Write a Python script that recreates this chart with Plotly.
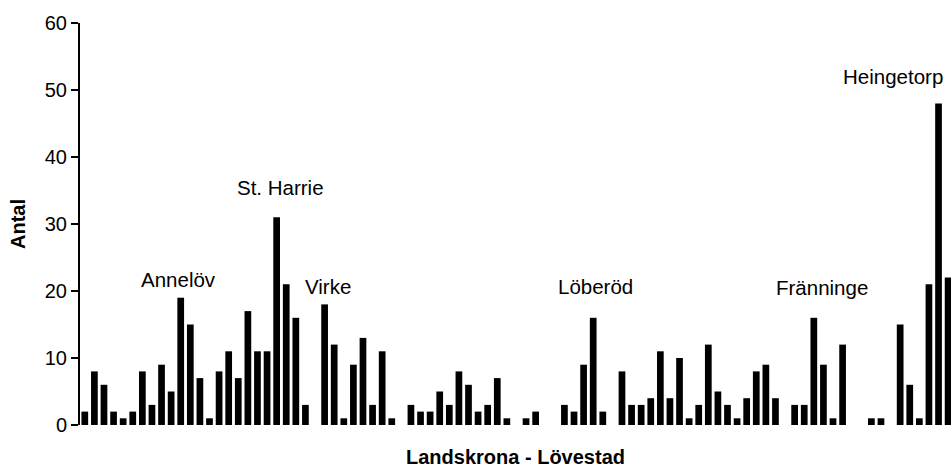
import plotly.graph_objects as go

positions = list(range(91))
counts = [2, 8, 6, 2, 1, 2, 8, 3, 9, 5, 19, 15, 7, 1, 8, 11, 7, 17, 11, 11,
          31, 21, 16, 3, None, 18, 12, 1, 9, 13, 3, 11, 1, None, 3, 2, 2, 5, 3, 8,
          6, 2, 3, 7, 1, None, 1, 2, None, None, 3, 2, 9, 16, 2, None, 8, 3, 3, 4,
          11, 4, 10, 1, 3, 12, 5, 3, 1, 4, 8, 9, 4, None, 3, 3, 16, 9, 1, 12,
          None, None, 1, 1, None, 15, 6, 1, 21, 48, 22]

place_names = ["Annelöv", "St. Harrie", "Virke", "Löberöd", "Fränninge", "Heingetorp"]
place_x = [9.76, 20.4, 25.4, 53.2, 76.8, 84.3]
place_y = [21.7, 35.4, 20.6, 20.7, 20.5, 52.0]

y_ticks = [0, 10, 20, 30, 40, 50, 60]

FONT = "Liberation Sans, Arial, sans-serif"

fig = go.Figure(go.Bar(x=positions, y=counts, marker=dict(color="black", line=dict(width=0))))

for name, px, py in zip(place_names, place_x, place_y):
    fig.add_annotation(x=px, y=py, text=name, showarrow=False,
                       xanchor="center", yanchor="middle",
                       font=dict(family=FONT, size=20.5, color="black"))

fig.update_layout(
    width=951, height=468,
    margin=dict(l=80, r=0, t=23, b=43),
    plot_bgcolor="white", paper_bgcolor="white",
    bargap=0.3, showlegend=False,
    font=dict(family=FONT, color="black"),
)
fig.update_xaxes(range=[-0.5, 90.3], showticklabels=False, showgrid=False,
                 zeroline=False, showline=False, ticks="", automargin=False,
                 title=dict(text="<b>Landskrona - Lövestad</b>",
                            font=dict(family=FONT, size=20, color="black"), standoff=33))
fig.update_yaxes(range=[0, 60], tickvals=y_ticks, showgrid=False, zeroline=False,
                 showline=True, linecolor="black", linewidth=2, automargin=False,
                 ticks="outside", ticklen=7, tickwidth=1.5, tickcolor="black",
                 tickfont=dict(family=FONT, size=20, color="black"),
                 title=dict(text="<b>Antal</b>", font=dict(family=FONT, size=20, color="black"),
                            standoff=14))

fig.write_html(
    "out.html",
    config={"displayModeBar": False},
    post_script="document.body.style.margin='0';document.body.style.overflow='hidden';",
)
